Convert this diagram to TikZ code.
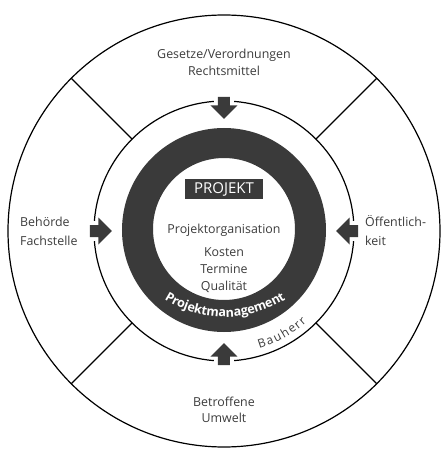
\documentclass[tikz,border=0pt]{standalone}
\usepackage{fontspec}
\setmainfont{Open Sans}
\definecolor{ringgray}{HTML}{3A3A3A}
\definecolor{textgray}{HTML}{3C3C3C}
\tikzset{
  ring line/.style={line width=1.2pt, black},
  blockarrow/.pic={
    \fill[ringgray] (-11,-6) -- (-2.5,-6) -- (-2.5,-13.5) -- (11,0)
      -- (-2.5,13.5) -- (-2.5,6) -- (-11,6) -- cycle;
  },
  label text/.style={text=textgray, font=\fontsize{12.4}{16.5}\selectfont, inner sep=0pt},
  side text/.style={label text, font=\fontsize{12.4}{19}\selectfont, align=left, anchor=west},
  bauletter/.style={text=textgray, font=\fontsize{12}{12}\selectfont, inner sep=0pt, anchor=base},
  pmletter/.style={text=white, font=\fontsize{12.6}{12.6}\bfseries, inner sep=0pt, anchor=base}
}
\begin{document}
\begin{tikzpicture}[x=1pt,y=1pt]
  \useasboundingbox (-224,-219) rectangle (217,231);
  % outer ring with sectors
  \draw[ring line] (0,0) circle[radius=216];
  \foreach \a in {45,135,225,315}
    \draw[ring line] (\a:130) -- (\a:216);
  \foreach \a in {0,90,180,270}
    \draw[ring line] (\a+4.5:130) arc[start angle=\a+4.5, end angle=\a+85.5, radius=130];
  % dark ring
  \fill[ringgray, even odd rule] (0,1) circle[radius=102] (0,2) circle[radius=71];
  % Projektmanagement, letter by letter on an arc
  \begin{scope}[shift={(1,27)}]
    \foreach \ch/\off [count=\i] in {P/-60.1,r/-53.3,o/-46.7,j/-41.0,e/-35.5,k/-28.0,
        t/-21.5,m/-12.8,a/-2.9,n/5.0,a/13.0,g/20.2,e/27.3,m/37.0,e/46.7,n/54.6,t/61.4}
      \node[pmletter, rotate={0.5071*\off}] (pm\i) at ({270+0.5071*\off}:113) {\ch};
  \end{scope}
  % arrows
  \pic[rotate=-90] (arrowtop) at (90:123) {blockarrow};
  \pic (arrowleft) at (180:123) {blockarrow};
  \pic[rotate=180] (arrowright) at (0:123) {blockarrow};
  \pic[rotate=90] (arrowbottom) at (270:123) {blockarrow};
  % outer labels
  \node[label text, align=center] (gesetze) at (0,168.5) {Gesetze/Verordnungen\\Rechtsmittel};
  \node[side text] (behoerde) at (-204,-0.5) {Behörde\\Fachstelle};
  \node[side text] (oeffentlich) at (141,0) {Öffentlich-\\keit};
  \node[label text, align=center] (betroffene) at (0,-179) {Betroffene\\Umwelt};
  % center
  \node[fill=ringgray, text=white, font=\fontsize{15}{15}\selectfont,
    minimum width=78pt, minimum height=20pt, inner sep=0pt] (projekt) at (0,42) {PROJEKT};
  \node[label text, anchor=base] (orga) at (0,-2.3) {Projektorganisation};
  \node[label text, anchor=base] (kosten) at (0,-25) {Kosten};
  \node[label text, anchor=base] (termine) at (0,-42.3) {Termine};
  \node[label text, anchor=base] (qualitaet) at (0,-59) {Qualität};
  % Bauherr
  \foreach \ch/\s [count=\i] in {B/0,a/8.85,u/17.45,h/26.35,e/34.95,r/42.3,r/48.7}
    \node[bauletter, rotate={-71.5+0.4658*\s+90}] (bau\i) at ({-71.5+0.4658*\s}:123) {\ch};
\end{tikzpicture}
\end{document}
